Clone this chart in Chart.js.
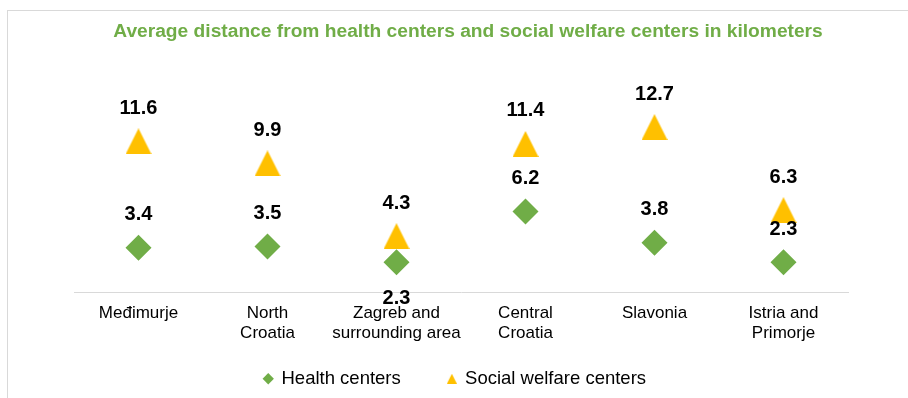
<!DOCTYPE html>
<html>
<head>
<meta charset="utf-8">
<script src="https://cdn.jsdelivr.net/npm/chart.js@4.4.1/dist/chart.umd.min.js"></script>
<style>
  html, body { margin: 0; padding: 0; background: #fff; }
  #frame { position: absolute; left: 7px; top: 10px; width: 1000px; height: 1000px; border: 1px solid #d9d9d9; }
  #wrap { position: absolute; left: 0; top: 0; width: 908px; height: 398px; }
</style>
</head>
<body>
<div id="frame"></div>
<div id="wrap"><canvas id="distChart" width="908" height="398"></canvas></div>
<script>
// Average distance (km) per region
var regions = [
  "Međimurje",
  ["North", "Croatia"],
  ["Zagreb and", "surrounding area"],
  ["Central", "Croatia"],
  "Slavonia",
  ["Istria and", "Primorje"]
];
var healthCenters = [3.4, 3.5, 2.3, 6.2, 3.8, 2.3];
var welfareCenters = [11.6, 9.9, 4.3, 11.4, 12.7, 6.3];

var green = "#70AD47";
var gold = "#FFC000";
var fontFamily = '"Liberation Sans", Arial, sans-serif';

// excel style triangle marker, apex up
function triangleMark(w, h, color) {
  var c = document.createElement("canvas");
  c.width = w;
  c.height = h;
  var g = c.getContext("2d");
  g.fillStyle = color;
  g.beginPath();
  g.moveTo(w / 2, 0);
  g.lineTo(w, h);
  g.lineTo(0, h);
  g.closePath();
  g.fill();
  return c;
}

var bigTriangle = triangleMark(26, 26, gold);
var smallTriangle = triangleMark(10, 10, gold);

// value labels over (or under) every marker
var valueLabels = {
  id: "valueLabels",
  afterDatasetsDraw: function(chart) {
    var ctx = chart.ctx;
    ctx.save();
    ctx.font = "bold 20px " + fontFamily;
    ctx.fillStyle = "#000";
    ctx.textAlign = "center";
    ctx.textBaseline = "middle";
    chart.data.datasets.forEach(function(ds, i) {
      chart.getDatasetMeta(i).data.forEach(function(pt, j) {
        var below = ds.labelsBelow && ds.labelsBelow.indexOf(j) >= 0;
        ctx.fillText(ds.data[j].toFixed(1), pt.x, pt.y + (below ? 36 : -33));
      });
    });
    ctx.restore();
  }
};

// hidden axes only used to reserve side space
function hiddenAxis(width, pos) {
  return {
    position: pos,
    grid: { display: false },
    border: { display: false },
    ticks: { display: false },
    afterFit: function(scale) { scale.width = width; }
  };
}

var yAxis = hiddenAxis(46, "left");
yAxis.min = 0;
yAxis.max = 18;

var ctx = document.getElementById("distChart").getContext("2d");
var distChart = new Chart(ctx, {
  type: "line",
  data: {
    labels: regions,
    datasets: [{
      label: "Health centers",
      data: healthCenters,
      showLine: false,
      pointStyle: "rectRot",
      pointRadius: 13,
      pointHoverRadius: 13,
      pointBorderWidth: 0,
      pointBackgroundColor: green,
      backgroundColor: green,
      borderColor: green,
      labelsBelow: [2]
    }, {
      label: "Social welfare centers",
      data: welfareCenters,
      showLine: false,
      pointStyle: bigTriangle,
      pointRadius: 13,
      pointHoverRadius: 13,
      pointBorderWidth: 0,
      pointBackgroundColor: gold,
      backgroundColor: gold,
      borderColor: gold
    }]
  },
  options: {
    responsive: false,
    animation: false,
    layout: { padding: { left: 28, right: 0, top: 10, bottom: 0 } },
    scales: {
      x: {
        offset: true,
        grid: { display: false, drawTicks: false },
        border: { display: true, color: "#d9d9d9", width: 1 },
        ticks: {
          padding: 11,
          maxRotation: 0,
          autoSkip: false,
          color: "#000",
          font: { family: fontFamily, size: 17, lineHeight: 1.18 }
        },
        afterFit: function(scale) { scale.height = 51; }
      },
      y: yAxis,
      yRight: hiddenAxis(60, "right")
    },
    plugins: {
      title: {
        display: true,
        text: "Average distance from health centers and social welfare centers in kilometers",
        color: green,
        font: { family: fontFamily, size: 19.2, weight: "bold", lineHeight: 1.2 },
        padding: { top: 10, bottom: 15.2 }
      },
      legend: {
        position: "bottom",
        labels: {
          usePointStyle: true,
          boxWidth: 8,
          boxHeight: 8,
          padding: 26.5,
          color: "#000",
          font: { family: fontFamily, size: 18.5 },
          generateLabels: function(chart) {
            var items = Chart.defaults.plugins.legend.labels.generateLabels(chart);
            var styles = ["rectRot", smallTriangle];
            var colors = [green, gold];
            items.forEach(function(it, i) {
              it.pointStyle = styles[i];
              it.fillStyle = colors[i];
              it.strokeStyle = colors[i];
              it.lineWidth = 0;
              // wider gap between entries, and pull the row a bit left
              it.text = it.text + (i === 0 ? "    " : "     ");
            });
            return items;
          }
        }
      },
      tooltip: { enabled: false }
    }
  },
  plugins: [valueLabels]
});
</script>
</body>
</html>
